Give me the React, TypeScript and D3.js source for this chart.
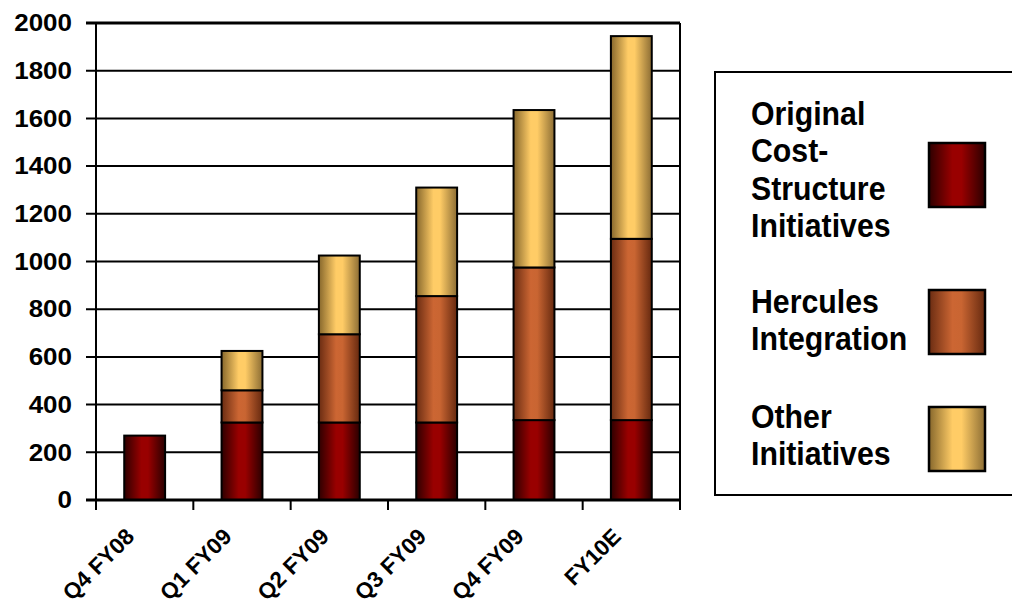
import React, { useRef, useEffect } from "react";
import * as d3 from "d3";

const categories = ["Q4 FY08", "Q1 FY09", "Q2 FY09", "Q3 FY09", "Q4 FY09", "FY10E"];
const originalCost = [270, 325, 325, 325, 335, 335];
const hercules = [0, 135, 370, 530, 640, 760];
const otherInit = [0, 165, 330, 455, 660, 850];
const yTicks = [0, 200, 400, 600, 800, 1000, 1200, 1400, 1600, 1800, 2000];

const seriesKeys = ["original", "hercules", "other"];
const legendLabels = [
  ["Original", "Cost-", "Structure", "Initiatives"],
  ["Hercules", "Integration"],
  ["Other", "Initiatives"],
];

const dims = {
  width: 1012,
  height: 612,
  left: 96,
  right: 680,
  top: 23,
  bottom: 500,
};

// y tick labels are drawn a bit wide in the original
const yLabelStretch = 1.13;
const font = "'Liberation Sans', Arial, sans-serif";

const gradients = [
  { id: "gOrig", stops: ["#2e0000", "#990000", "#990000", "#2a0000"] },
  { id: "gHerc", stops: ["#6a2c12", "#cc6633", "#c96532", "#66290f"] },
  { id: "gOther", stops: ["#86672c", "#ffcc66", "#ffcc66", "#8c6d34"] },
];

const App = () => {
  const ref = useRef<SVGSVGElement>(null);

  useEffect(() => {
    const svg = d3.select(ref.current);
    svg.selectAll("*").remove();

    const defs = svg.append("defs");
    gradients.forEach((g) => {
      const lg = defs
        .append("linearGradient")
        .attr("id", g.id)
        .attr("x1", 0)
        .attr("x2", 1)
        .attr("y1", 0)
        .attr("y2", 0);
      [0, 0.42, 0.58, 1].forEach((o, i) =>
        lg.append("stop").attr("offset", o).attr("stop-color", g.stops[i])
      );
    });

    const table = categories.map((c, i) => ({
      cat: c,
      original: originalCost[i],
      hercules: hercules[i],
      other: otherInit[i],
    }));

    const x = d3
      .scaleBand()
      .domain(categories)
      .range([dims.left, dims.right])
      .paddingInner(0.58)
      .paddingOuter(0.29);
    const step = x.step();

    const y = d3.scaleLinear().domain([0, 2000]).range([dims.bottom, dims.top]);

    // gridlines + y ticks
    svg
      .append("g")
      .selectAll("line")
      .data(yTicks.filter((t) => t > 0))
      .join("line")
      .attr("x1", dims.left - 10)
      .attr("x2", dims.right)
      .attr("y1", (d) => y(d))
      .attr("y2", (d) => y(d))
      .attr("stroke", "#000")
      .attr("stroke-width", (d) => (d === 2000 ? 3 : 2));

    svg
      .append("g")
      .selectAll("text")
      .data(yTicks)
      .join("text")
      .attr("transform", (d) => `translate(72,${y(d)}) scale(${yLabelStretch},1)`)
      .attr("dy", "0.36em")
      .attr("text-anchor", "end")
      .attr("font-family", font)
      .attr("font-weight", "bold")
      .attr("font-size", 23)
      .text((d) => d);

    // bars
    const stacked = d3.stack<any>().keys(seriesKeys)(table);
    const fills = ["url(#gOrig)", "url(#gHerc)", "url(#gOther)"];

    stacked.forEach((layer, li) => {
      svg
        .append("g")
        .selectAll("rect")
        .data(layer.filter((d) => d[1] - d[0] > 0))
        .join("rect")
        .attr("x", (d) => x(d.data.cat)!)
        .attr("width", x.bandwidth())
        .attr("y", (d) => y(d[1]))
        .attr("height", (d) => y(d[0]) - y(d[1]))
        .attr("fill", fills[li])
        .attr("stroke", "#000")
        .attr("stroke-width", 2);
    });

    // axes frame
    svg
      .append("line")
      .attr("x1", dims.left)
      .attr("x2", dims.left)
      .attr("y1", dims.top)
      .attr("y2", dims.bottom + 10)
      .attr("stroke", "#000")
      .attr("stroke-width", 2);
    svg
      .append("line")
      .attr("x1", dims.right)
      .attr("x2", dims.right)
      .attr("y1", dims.top)
      .attr("y2", dims.bottom + 10)
      .attr("stroke", "#000")
      .attr("stroke-width", 2);
    svg
      .append("line")
      .attr("x1", dims.left - 10)
      .attr("x2", dims.right)
      .attr("y1", dims.bottom)
      .attr("y2", dims.bottom)
      .attr("stroke", "#000")
      .attr("stroke-width", 3);

    // x ticks at band boundaries
    svg
      .append("g")
      .selectAll("line")
      .data(categories.slice(1))
      .join("line")
      .attr("x1", (d) => x(d)! + x.bandwidth() / 2 - step / 2)
      .attr("x2", (d) => x(d)! + x.bandwidth() / 2 - step / 2)
      .attr("y1", dims.bottom)
      .attr("y2", dims.bottom + 10)
      .attr("stroke", "#000")
      .attr("stroke-width", 2);

    svg
      .append("g")
      .selectAll("text")
      .data(categories)
      .join("text")
      .attr(
        "transform",
        (d) => `translate(${x(d)! + x.bandwidth() / 2 - 9},538) rotate(-45)`
      )
      .attr("text-anchor", "end")
      .attr("font-family", font)
      .attr("font-weight", "bold")
      .attr("font-size", 22.5)
      .style("font-kerning", "none")
      .text((d) => d);

    // legend
    svg
      .append("rect")
      .attr("x", 715)
      .attr("y", 72)
      .attr("width", 320)
      .attr("height", 423)
      .attr("fill", "#fff")
      .attr("stroke", "#000")
      .attr("stroke-width", 2);

    const legendFirstBaseline = [125, 313, 428];
    const swatchTop = [143, 290, 407];
    const lineH = 37.3;

    legendLabels.forEach((lines, i) => {
      const g = svg.append("g");
      g.selectAll("text")
        .data(lines)
        .join("text")
        .attr(
          "transform",
          (_d, j) => `translate(751,${legendFirstBaseline[i] + j * lineH}) scale(0.89,1)`
        )
        .attr("font-family", font)
        .attr("font-weight", "bold")
        .attr("font-size", 34)
        .text((d) => d);
      g.append("rect")
        .attr("x", 929)
        .attr("y", swatchTop[i])
        .attr("width", 56)
        .attr("height", 64)
        .attr("fill", fills[i])
        .attr("stroke", "#000")
        .attr("stroke-width", 2.5);
    });

    return () => undefined;
  }, []);

  return (
    <svg
      ref={ref}
      width={dims.width}
      height={dims.height}
      style={{ position: "absolute", left: 0, top: 0, background: "#fff" }}
    />
  );
};

export default App;
